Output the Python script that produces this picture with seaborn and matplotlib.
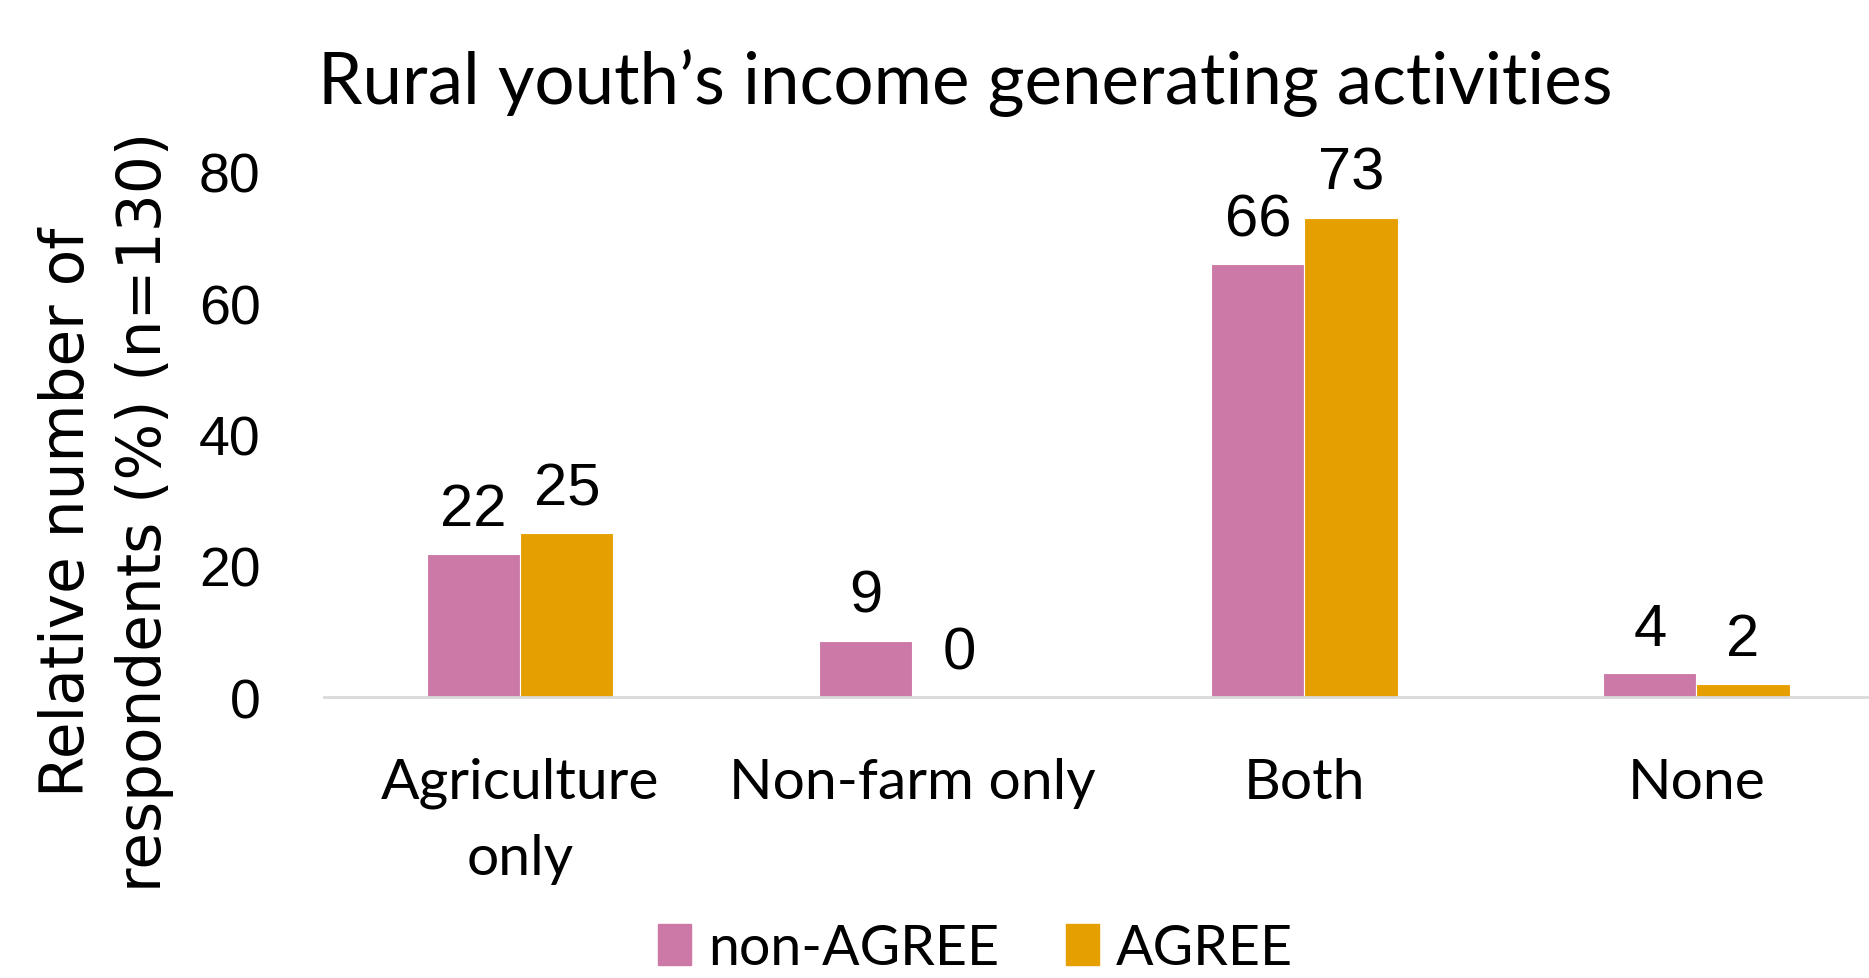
import pandas as pd
import numpy as np
import matplotlib
matplotlib.use("Agg")
import matplotlib.pyplot as plt
import seaborn as sns

# Chart data
categories = ['Agriculture\nonly', 'Non-farm only', 'Both', 'None']
groups = ['non-AGREE', 'AGREE']
non_agree = [21.8, 8.6, 65.9, 3.6]
agree = [25.0, 0.0, 73.0, 2.0]
y_ticks = [0, 20, 40, 60, 80]

colors = {'non-AGREE': '#CC79A7', 'AGREE': '#E69F00'}

df = pd.DataFrame({
    'Activity': categories * 2,
    'Group': ['non-AGREE'] * len(categories) + ['AGREE'] * len(categories),
    'Percent': non_agree + agree,
})

sns.set_theme(style="white")
plt.rcParams['font.family'] = ['Liberation Sans', 'DejaVu Sans']
plt.rcParams['text.color'] = 'black'
plt.rcParams['xtick.color'] = 'black'
plt.rcParams['ytick.color'] = 'black'
plt.rcParams['axes.labelcolor'] = 'black'

fig = plt.figure(figsize=(18.69, 9.79), dpi=100)
ax = fig.add_axes([0.1735, 0.287, 0.8265, 0.5366])

sns.barplot(data=df, x='Activity', y='Percent', hue='Group', order=categories,
            hue_order=groups, palette=colors, width=0.475, gap=0,
            edgecolor='white', linewidth=0.8, saturation=1, ax=ax, legend=False)

# value labels above each bar
for cont in ax.containers:
    ax.bar_label(cont, fmt='%.0f', padding=12, fontsize=43, color='black')

ax.set_xlim(-0.5, 3.44)
ax.set_ylim(0, 80)
ax.set_yticks(y_ticks)
ax.tick_params(axis='y', labelsize=40, length=0, pad=46)
ax.tick_params(axis='x', length=0, pad=43)
for lbl in ax.get_xticklabels():
    lbl.set_fontfamily('Lato')
    lbl.set_fontsize(41)
    lbl.set_linespacing(1.6)

sns.despine(ax=ax, left=True, top=True, right=True)
ax.spines['bottom'].set_color('#d9d9d9')
ax.spines['bottom'].set_linewidth(2)
ax.set_xlabel('')
ax.set_ylabel('Relative number of\nrespondents (%) (n=130)', fontsize=43,
              fontfamily='DejaVu Sans', linespacing=1.4)
ax.yaxis.set_label_coords(-0.097, 0.354)

fig.text(0.5166, 0.915, 'Rural youth\u2019s income generating activities',
         ha='center', va='center', fontsize=51, fontfamily='Lato')

handles = [plt.Rectangle((0, 0), 1, 1, color=colors[g]) for g in groups]
fig.legend(handles, groups, loc='center', bbox_to_anchor=(0.522, 0.03),
           ncol=2, frameon=False, prop={'family': 'Lato', 'size': 40},
           handlelength=0.6, handleheight=0.75, handletextpad=0.3, columnspacing=1.2)

fig.savefig('out.png', dpi=100)
